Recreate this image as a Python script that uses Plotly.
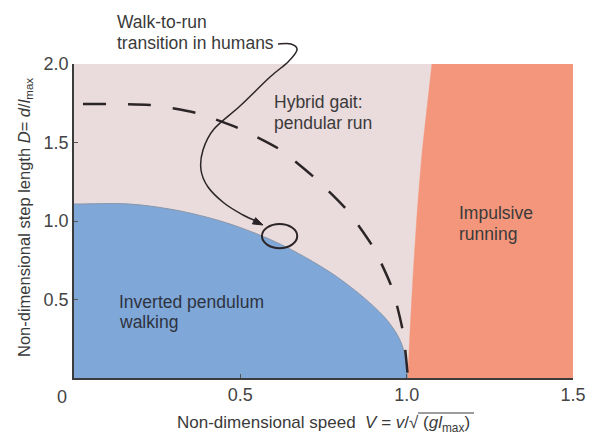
import plotly.graph_objects as go

# ---------------- data ----------------
# Boundary of the "inverted pendulum walking" region (speed V, step length D)
walk_V = [0.0, 0.168, 0.319, 0.469, 0.619, 0.769, 0.869, 0.941, 0.980, 0.998, 1.004]
walk_D = [1.108, 1.108, 1.064, 0.981, 0.854, 0.675, 0.516, 0.369, 0.242, 0.115, 0.0]

# Left boundary of the "impulsive running" region
run_V = [1.004, 1.008, 1.018, 1.030, 1.045, 1.076]
run_D = [0.0, 0.20, 0.60, 1.00, 1.40, 2.00]

# Dashed curve (walk-to-run transition, humans)
dash_V = [0.027, 0.228, 0.367, 0.493, 0.616, 0.721, 0.818, 0.899, 0.956, 0.989, 1.004]
dash_D = [1.745, 1.739, 1.688, 1.592, 1.459, 1.280, 1.076, 0.834, 0.573, 0.293, 0.0]

# Observed human walk-to-run transition point
transition_V = 0.618
transition_D = 0.904

x_ticks = [0.5, 1.0, 1.5]
x_tick_labels = ["0.5", "1.0", "1.5"]
y_ticks = [0.5, 1.0, 1.5, 2.0]
y_tick_labels = ["0.5", "1.0", "1.5", "2.0"]

X_MAX = 1.5
Y_MAX = 2.0

# ---------------- styling ----------------
PINK = "#EADBDC"
BLUE = "#7FA7D8"
ORANGE = "#F4967B"
INK = "#2B2528"
TXT = "#3A3A3A"
FONT = "Liberation Sans, Arial, sans-serif"

# page body has an 8px margin; plot area sits at x 74..573, y 64..378 on screen
OFF = 8
W, H = 606 - OFF, 442 - OFF
L, T = 74 - OFF, 64 - OFF
R, B = 33, 64
PW, PH = 499, 314


def px2paper(px, py):
    """screen pixel of the reference -> paper coordinates"""
    return (px - 74) / PW, (378 - py) / PH


fig = go.Figure()

# blue region (polygon extended beyond the axes so the spline corners are hidden)
fig.add_trace(go.Scatter(
    x=[-0.1] + walk_V + [walk_V[-1], -0.1, -0.1],
    y=[walk_D[0]] + walk_D + [-0.1, -0.1, walk_D[0]],
    fill="toself", fillcolor=BLUE, mode="lines",
    line=dict(color="#8a97ab", width=1, shape="spline", smoothing=0.9),
    hoverinfo="skip", showlegend=False))

# orange region
fig.add_trace(go.Scatter(
    x=[run_V[0]] + run_V + [run_V[-1] + 0.01, X_MAX + 0.1, X_MAX + 0.1, run_V[0]],
    y=[-0.1] + run_D + [Y_MAX + 0.2, Y_MAX + 0.2, -0.1, -0.1],
    fill="toself", fillcolor=ORANGE, mode="lines",
    line=dict(color=ORANGE, width=0.5, shape="spline", smoothing=0.6),
    hoverinfo="skip", showlegend=False))

# dashed transition curve
fig.add_trace(go.Scatter(
    x=dash_V, y=dash_D, mode="lines",
    line=dict(color=INK, width=2.5, dash="23px,22px", shape="spline", smoothing=0.6),
    hoverinfo="skip", showlegend=False))

shapes = []
# ellipse around transition point
shapes.append(dict(type="circle", xref="x", yref="y",
                   x0=transition_V - 0.053, x1=transition_V + 0.053,
                   y0=transition_D - 0.077, y1=transition_D + 0.077,
                   line=dict(color=INK, width=2)))

# curved arrow from label to ellipse (pixel waypoints, converted to paper)
pts = [(278, 44), (291, 44), (297, 50), (288, 62), (270, 77), (240, 106),
       (214, 129), (203, 150), (201, 170), (208, 187), (224, 203), (243, 215), (256, 221)]
pp = [px2paper(*p) for p in pts]
path = "M{:.5f},{:.5f}".format(*pp[0])
for i in range(len(pp) - 1):
    p0 = pp[i - 1] if i > 0 else pp[i]
    p1 = pp[i]
    p2 = pp[i + 1]
    p3 = pp[i + 2] if i + 2 < len(pp) else pp[i + 1]
    c1 = (p1[0] + (p2[0] - p0[0]) / 6, p1[1] + (p2[1] - p0[1]) / 6)
    c2 = (p2[0] - (p3[0] - p1[0]) / 6, p2[1] - (p3[1] - p1[1]) / 6)
    path += " C{:.5f},{:.5f} {:.5f},{:.5f} {:.5f},{:.5f}".format(*c1, *c2, *p2)
shapes.append(dict(type="path", xref="paper", yref="paper", path=path,
                   line=dict(color=INK, width=1.5)))

# arrow head (filled triangle)
head = [(263, 225), (252.4, 223.9), (255.6, 217.7)]
hp = [px2paper(*p) for p in head]
shapes.append(dict(type="path", xref="paper", yref="paper",
                   path="M{:.5f},{:.5f} L{:.5f},{:.5f} L{:.5f},{:.5f} Z".format(*hp[0], *hp[1], *hp[2]),
                   fillcolor=INK, line=dict(color=INK, width=1)))

# overline of the square root in the x title
ox0, oy = px2paper(418, 413)
ox1, _ = px2paper(474, 413)
shapes.append(dict(type="line", xref="paper", yref="paper",
                   x0=ox0, x1=ox1, y0=oy, y1=oy, line=dict(color=TXT, width=1)))

annotations = []


def label(px, py, text, size=17.5, color=TXT):
    x, y = px2paper(px, py)
    annotations.append(dict(xref="paper", yref="paper", x=x, y=y, text=text,
                            xanchor="left", yanchor="middle", showarrow=False,
                            font=dict(family=FONT, size=size, color=color)))


label(115, 22, "Walk-to-run")
label(115, 43, "transition in humans")
label(272, 102, "Hybrid gait:")
label(272, 123, "pendular run")
label(457, 213, "Impulsive")
label(457, 234, "running")
label(117, 302, "Inverted pendulum", color="#2E3340")
label(117, 322, "walking", color="#2E3340")

# the single origin label "0"
zx, zy = px2paper(62, 397)
annotations.append(dict(xref="paper", yref="paper", x=zx, y=zy, text="0",
                        xanchor="center", yanchor="middle", showarrow=False,
                        font=dict(family=FONT, size=18, color="#444444")))

# axis titles
tx, ty = px2paper(323, 424)
annotations.append(dict(xref="paper", yref="paper", x=tx, y=ty,
                        text="Non-dimensional speed\u00a0\u00a0<i>V</i> = <i>v</i>/√ (<i>gl</i><sub>max</sub>)",
                        xanchor="center", yanchor="middle", showarrow=False,
                        font=dict(family=FONT, size=17, color=TXT)))
yx, yy = px2paper(25, 218)
annotations.append(dict(xref="paper", yref="paper", x=yx, y=yy, textangle=-90,
                        text="Non-dimensional step length <i>D</i>= <i>d</i>/<i>l</i><sub>max</sub>",
                        xanchor="center", yanchor="middle", showarrow=False,
                        font=dict(family=FONT, size=16.5, color=TXT)))

fig.update_layout(
    width=W, height=H,
    margin=dict(l=L, r=R, t=T, b=B, pad=0),
    paper_bgcolor="white", plot_bgcolor=PINK,
    shapes=shapes, annotations=annotations,
    showlegend=False, hovermode=False,
    font=dict(family=FONT, size=18, color="#444444"),
)
fig.update_xaxes(range=[0, X_MAX], tickvals=x_ticks, ticktext=x_tick_labels,
                 showgrid=False, zeroline=False, showline=True, linecolor="#3C3C3C",
                 linewidth=1.5, ticks="inside", ticklen=4, tickwidth=1.2, tickcolor="#555555",
                 tickfont=dict(family=FONT, size=18, color="#444444"), fixedrange=True)
fig.update_yaxes(range=[0, Y_MAX], tickvals=y_ticks, ticktext=y_tick_labels,
                 showgrid=False, zeroline=False, showline=True, linecolor="#3C3C3C",
                 linewidth=1.5, ticks="inside", ticklen=4, tickwidth=1.2, tickcolor="#555555",
                 tickfont=dict(family=FONT, size=18, color="#444444"), fixedrange=True)

fig.write_html("out.html")
